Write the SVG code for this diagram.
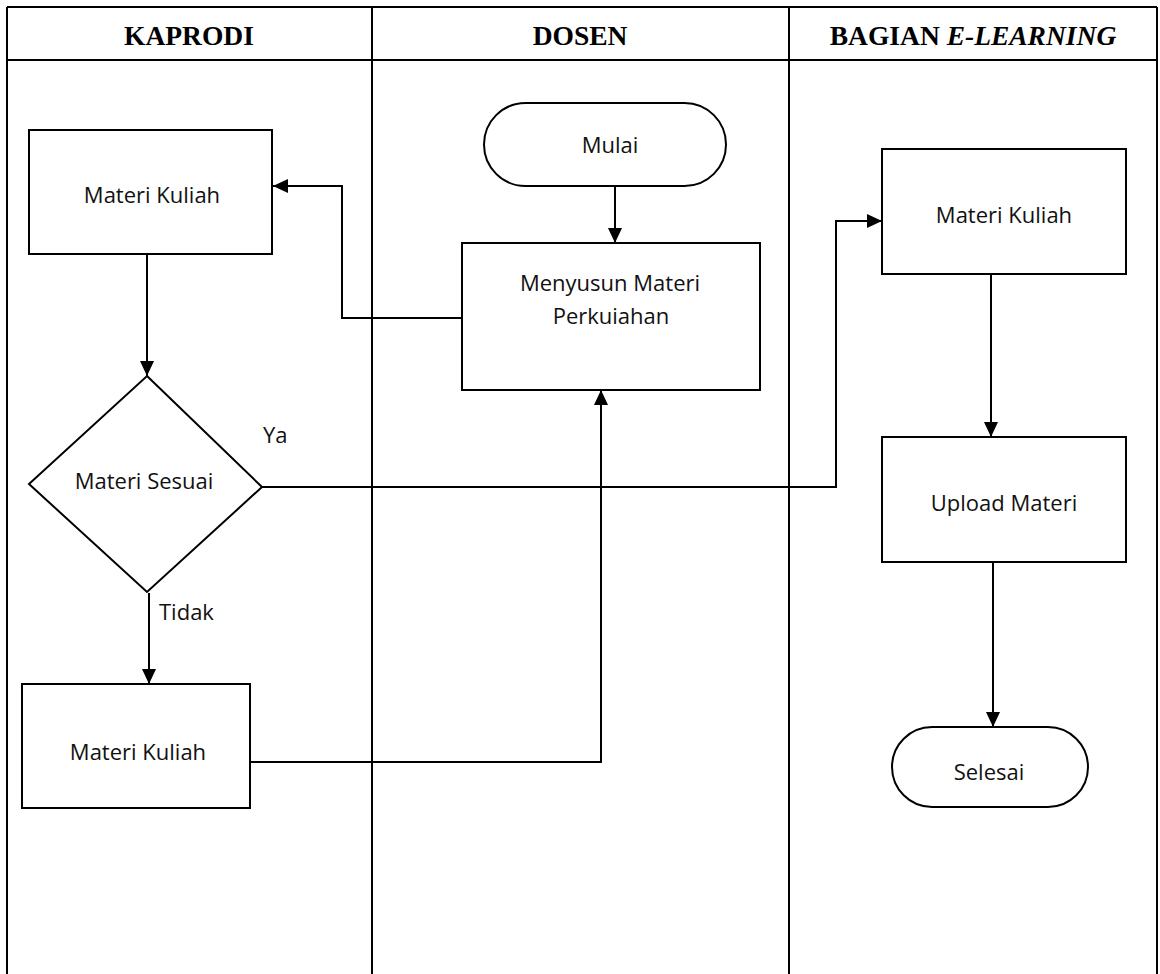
<svg xmlns="http://www.w3.org/2000/svg" width="1160" height="974" viewBox="0 0 1160 974">
  <style>
    .lane { fill: none; stroke: #000; stroke-width: 2; }
    .box { fill: #fff; stroke: #000; stroke-width: 2; }
    .conn { fill: none; stroke: #000; stroke-width: 2; }
    .head { font-family: "Liberation Serif", "Times New Roman", serif; font-weight: bold; font-size: 27.5px; text-anchor: middle; fill: #000; }
    .lbl { font-family: "Open Sans", "Noto Sans", sans-serif; font-size: 22px; text-anchor: middle; fill: #111; }
    .note { font-family: "Open Sans", "Noto Sans", sans-serif; font-size: 22px; fill: #111; }
  </style>
  <defs>
    <marker id="arrow" markerUnits="userSpaceOnUse" markerWidth="16" markerHeight="14" refX="15" refY="7" orient="auto">
      <path d="M0,0 L15,7 L0,14 Z" fill="#000"/>
    </marker>
  </defs>

  <rect width="1160" height="974" fill="#fff"/>

  <!-- swimlane table -->
  <g id="lanes">
    <line class="lane" x1="7" y1="7" x2="1157" y2="7"/>
    <line class="lane" x1="7" y1="60" x2="1157" y2="60"/>
    <line class="lane" x1="7" y1="7" x2="7" y2="974"/>
    <line class="lane" x1="372" y1="7" x2="372" y2="974"/>
    <line class="lane" x1="789" y1="7" x2="789" y2="974"/>
    <line class="lane" x1="1157" y1="7" x2="1157" y2="974"/>
    <text class="head" x="189" y="45">KAPRODI</text>
    <text class="head" x="580" y="45">DOSEN</text>
    <text class="head" x="973" y="45">BAGIAN <tspan font-style="italic">E-LEARNING</tspan></text>
  </g>

  <!-- connectors -->
  <g id="connectors">
    <path class="conn" d="M462,318 H342 V186 H273" marker-end="url(#arrow)"/>
    <path class="conn" d="M147,254 V376" marker-end="url(#arrow)"/>
    <path class="conn" d="M262,487 H836 V221 H882" marker-end="url(#arrow)"/>
    <path class="conn" d="M149,593 V684" marker-end="url(#arrow)"/>
    <path class="conn" d="M250,762 H601 V390" marker-end="url(#arrow)"/>
    <path class="conn" d="M615,186 V243" marker-end="url(#arrow)"/>
    <path class="conn" d="M991,274 V437" marker-end="url(#arrow)"/>
    <path class="conn" d="M993,562 V727" marker-end="url(#arrow)"/>
    <text class="note" x="263" y="443">Ya</text>
    <text class="note" x="159" y="620">Tidak</text>
  </g>

  <g id="materi-kuliah-kaprodi">
    <rect class="box" x="29" y="130" width="243" height="124"/>
    <text class="lbl" x="152" y="203">Materi Kuliah</text>
  </g>

  <g id="materi-sesuai">
    <polygon class="box" points="147,376 262,487 147,592 29,484"/>
    <text class="lbl" x="144" y="489">Materi Sesuai</text>
  </g>

  <g id="materi-kuliah-revisi">
    <rect class="box" x="22" y="684" width="228" height="124"/>
    <text class="lbl" x="138" y="760">Materi Kuliah</text>
  </g>

  <g id="mulai">
    <rect class="box" x="484" y="103" width="242" height="83" rx="41.5" ry="41.5"/>
    <text class="lbl" x="610" y="153">Mulai</text>
  </g>

  <g id="menyusun-materi">
    <rect class="box" x="462" y="243" width="298" height="147"/>
    <text class="lbl" x="610" y="291">Menyusun Materi</text>
    <text class="lbl" x="611" y="324">Perkuiahan</text>
  </g>

  <g id="materi-kuliah-elearning">
    <rect class="box" x="882" y="149" width="244" height="125"/>
    <text class="lbl" x="1004" y="223">Materi Kuliah</text>
  </g>

  <g id="upload-materi">
    <rect class="box" x="882" y="437" width="244" height="125"/>
    <text class="lbl" x="1004" y="511">Upload Materi</text>
  </g>

  <g id="selesai">
    <rect class="box" x="892" y="727" width="196" height="80" rx="40" ry="40"/>
    <text class="lbl" x="989" y="780">Selesai</text>
  </g>
</svg>
